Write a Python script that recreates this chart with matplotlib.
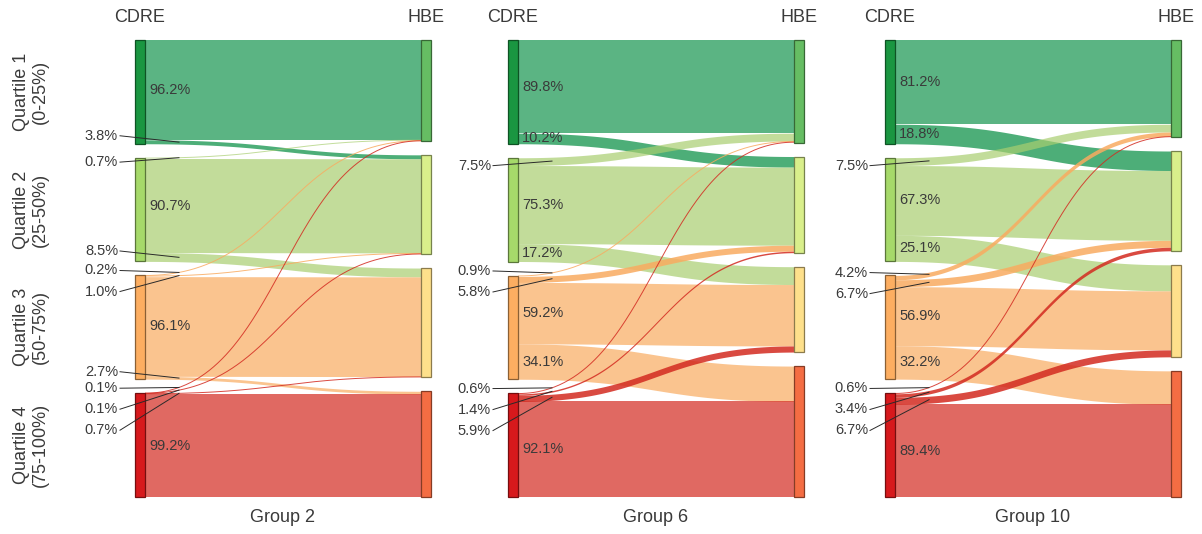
import matplotlib
matplotlib.use("Agg")
import matplotlib.pyplot as plt
import numpy as np
from matplotlib.colors import to_rgb
from matplotlib.patches import Rectangle

plt.rcParams["font.family"] = ["Liberation Sans", "DejaVu Sans"]

# CDRE quartile (rows) -> HBE quartile (columns), percent of the CDRE quartile
groups = ["Group 2", "Group 6", "Group 10"]
flows_g2 = [[96.2, 3.8, 0.0, 0.0],
            [0.7, 90.7, 8.5, 0.0],
            [0.2, 1.0, 96.1, 2.7],
            [0.1, 0.1, 0.7, 99.2]]
flows_g6 = [[89.8, 10.2, 0.0, 0.0],
            [7.5, 75.3, 17.2, 0.0],
            [0.9, 5.8, 59.2, 34.1],
            [0.6, 1.4, 5.9, 92.1]]
flows_g10 = [[81.2, 18.8, 0.0, 0.0],
             [7.5, 67.3, 25.1, 0.0],
             [4.2, 6.7, 56.9, 32.2],
             [0.6, 3.4, 6.7, 89.4]]
all_flows = [flows_g2, flows_g6, flows_g10]
quartile_labels = ["Quartile 1\n(0-25%)", "Quartile 2\n(25-50%)",
                   "Quartile 3\n(50-75%)", "Quartile 4\n(75-100%)"]

left_colors = ["#1a9641", "#a6d96a", "#fdae61", "#d7191c"]
right_colors = ["#66bd63", "#d9ef8b", "#fee08b", "#f46d43"]
link_colors = ["#15954e", "#a8ce70", "#f9ab60", "#d32a20"]

# layout in pixels
W, H = 1202, 534
panel_x = [135, 508, 885]
NODE_W = 10
SPAN = 276
TOP, BOTTOM, GAP = 40, 497, 14
INSIDE_MIN = 10.0
TXT = "#3a3a3a"


def darker(c, f=0.55):
    r, g, b = to_rgb(c)
    return (r * f, g * f, b * f)


def stack(sizes):
    scale = (BOTTOM - TOP - GAP * (len(sizes) - 1)) / sum(sizes)
    tops, y = [], TOP
    for s in sizes:
        tops.append(y)
        y += s * scale + GAP
    return np.array(tops), scale


def curve(x0, x1, y0, y1, n=200):
    t = np.linspace(0, 1, n)
    s = 1.5 * t * (1 - t) + t ** 3
    return x0 + (x1 - x0) * s, y0 + (y1 - y0) * (3 * t ** 2 - 2 * t ** 3)


def link_alpha(i, j):
    # upward moves out of the two lower quartiles are drawn stronger
    if j < i and i >= 2:
        return 0.85
    if i == 0 and j == 1:
        return 0.76
    return 0.7


fig = plt.figure(figsize=(W / 100, H / 100), dpi=100)
ax = fig.add_axes([0, 0, 1, 1])
ax.set_xlim(0, W)
ax.set_ylim(H, 0)
ax.axis("off")

for g, flows in enumerate(all_flows):
    m = np.array(flows) / 4.0  # each CDRE quartile holds a quarter of the sample
    lx = panel_x[g]
    rx = lx + NODE_W + SPAN
    ltops, lscale = stack(m.sum(axis=1))
    rtops, rscale = stack(m.sum(axis=0))
    scale = lscale

    src_off = np.zeros(4)
    dst_off = np.zeros(4)
    centres = {}
    for i in range(4):
        for j in range(4):
            v = m[i, j]
            if v <= 0:
                continue
            th = v * scale
            ys = ltops[i] + src_off[i]
            yd = rtops[j] + dst_off[j]
            src_off[i] += th
            dst_off[j] += th
            xs, yc = curve(lx + NODE_W, rx, ys + th / 2, yd + th / 2)
            centres[(i, j)] = (xs, yc)
            alpha = link_alpha(i, j)
            if th < 1.2:
                ax.plot(xs, yc, color=link_colors[i], alpha=alpha, lw=0.7,
                        solid_capstyle="butt", zorder=2)
            else:
                ax.fill_between(xs, yc - th / 2, yc + th / 2, color=link_colors[i],
                                alpha=alpha, lw=0, zorder=2)

    # nodes
    for i in range(4):
        h = m[i].sum() * scale
        ax.add_patch(Rectangle((lx, ltops[i]), NODE_W, h, facecolor=left_colors[i],
                               edgecolor=darker(left_colors[i]), lw=0.9, zorder=3))
    for j in range(4):
        h = m[:, j].sum() * rscale
        ax.add_patch(Rectangle((rx, rtops[j]), NODE_W, h, facecolor=right_colors[j],
                               edgecolor=darker(right_colors[j]), lw=0.9, zorder=3))

    # flow labels
    for i in range(4):
        targets = [j for j in range(4) if m[i, j] > 0]
        big = [j for j in targets if flows[i][j] >= INSIDE_MIN]
        top_small = [j for j in targets if j < big[0] and flows[i][j] < INSIDE_MIN]
        bot_small = [j for j in targets if j > big[-1] and flows[i][j] < INSIDE_MIN]
        for j in big:
            yc0 = centres[(i, j)][1][0]
            ax.text(lx + NODE_W + 4, yc0, f"{flows[i][j]:.1f}%", ha="left",
                    va="center", fontsize=10.5, color=TXT, zorder=5)
        placed = []
        if top_small:
            c0 = centres[(i, top_small[0])][1][0]
            y0 = c0 + (4 if len(top_small) == 1 else -5)
            placed += [(j, y0 + 21 * k) for k, j in enumerate(top_small)]
        if bot_small:
            cl = centres[(i, bot_small[-1])][1][0]
            yl = cl - 6
            n = len(bot_small)
            placed += [(j, yl - 21 * (n - 1 - k)) for k, j in enumerate(bot_small)]
        for j, yl in placed:
            xs, yc = centres[(i, j)]
            xe = lx + NODE_W + 34
            ye = np.interp(xe, xs, yc)
            ax.text(lx - 17, yl, f"{flows[i][j]:.1f}%", ha="right", va="center",
                    fontsize=10.5, color=TXT, zorder=5)
            ax.plot([lx - 15, xe], [yl, ye], color="#2a2a2a", lw=0.7, zorder=4)

    ax.text(lx + NODE_W / 2, 18, "CDRE", ha="center", va="center", fontsize=13, color=TXT)
    ax.text(rx + NODE_W / 2, 18, "HBE", ha="center", va="center", fontsize=13, color=TXT)
    ax.text((lx + rx + NODE_W) / 2, 518, groups[g], ha="center", va="center",
            fontsize=13, color=TXT)

    if g == 0:
        for i in range(4):
            yc = ltops[i] + m[i].sum() * scale / 2
            ax.text(31, yc, quartile_labels[i], rotation=90, ha="center", va="center",
                    multialignment="center", fontsize=13, color=TXT, linespacing=1.2)

fig.savefig("out.png", dpi=100)
